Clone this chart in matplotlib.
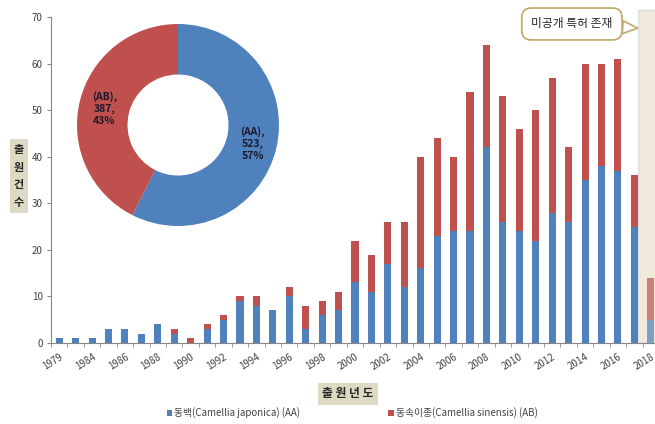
import matplotlib.pyplot as plt
from matplotlib.patches import Rectangle

plt.rcParams['font.family'] = ['Noto Sans CJK KR', 'DejaVu Sans']

years = ['1979', '1983', '1984', '1985', '1986', '1987', '1988', '1989', '1990',
         '1991', '1992', '1993', '1994', '1995', '1996', '1997', '1998', '1999',
         '2000', '2001', '2002', '2003', '2004', '2005', '2006', '2007', '2008',
         '2009', '2010', '2011', '2012', '2013', '2014', '2015', '2016', '2017', '2018']
aa = [1, 1, 1, 3, 3, 2, 4, 2, 0, 3, 5, 9, 8, 7, 10, 3, 6, 7,
      13, 11, 17, 12, 16, 23, 24, 24, 42, 26, 24, 22, 28, 26, 35, 38, 37, 25, 5]
ab = [0, 0, 0, 0, 0, 0, 0, 1, 1, 1, 1, 1, 2, 0, 2, 5, 3, 4,
      9, 8, 9, 14, 24, 21, 16, 30, 22, 27, 22, 28, 29, 16, 25, 22, 24, 11, 9]
shown_labels = ['1979', '1984', '1986', '1988', '1990', '1992', '1994', '1996', '1998',
                '2000', '2002', '2004', '2006', '2008', '2010', '2012', '2014', '2016', '2018']

donut_names = ['(AA)', '(AB)']
donut_values = [sum(aa), sum(ab)]

blue = '#4f81bd'
red = '#c0504d'
grey = '#868686'
text_c = '#404040'
beige = '#f0e9dc'

W, H = 655, 424
fig = plt.figure(figsize=(W / 100, H / 100), dpi=100)

# main stacked bars; the right edge runs past the figure
ax = fig.add_axes([51 / W, (H - 343) / H, 608 / W, 326 / H])
x = list(range(len(years)))
b1 = ax.bar(x, aa, width=0.43, color=blue, zorder=2)
b2 = ax.bar(x, ab, width=0.43, bottom=aa, color=red, zorder=2)
ax.set_xlim(-0.5, len(years) - 0.5)
ax.set_ylim(0, 70)
ax.set_yticks(range(0, 71, 10))
ax.tick_params(axis='y', labelsize=7, colors=grey, labelcolor=text_c, length=3, pad=3)
ax.set_xticks([years.index(y) for y in shown_labels])
ax.set_xticklabels(shown_labels, rotation=32, ha='right', va='top', rotation_mode='anchor')
ax.set_xticks([i - 0.5 for i in range(len(years) + 1)], minor=True)
ax.tick_params(axis='x', which='major', length=0, labelsize=7, labelcolor=text_c, pad=6)
ax.tick_params(axis='x', which='minor', length=3, colors=grey)
for s in ['top', 'right']:
    ax.spines[s].set_visible(False)
for s in ['left', 'bottom']:
    ax.spines[s].set_color(grey)
    ax.spines[s].set_linewidth(0.8)

# shaded span for the latest filings (solid behind, thin veil over the bars)
n = len(years)
ax.add_patch(Rectangle((n - 1.8, 0), 1.8, 71.5, facecolor=beige, edgecolor='#d5dde6',
                       linewidth=1, zorder=1, clip_on=False))
ax.add_patch(Rectangle((n - 1.8, 0), 1.8, 71.5, facecolor=beige, alpha=0.3,
                       edgecolor='none', zorder=3, clip_on=False))
ax.annotate('미공개 특허 존재', xy=(n - 1.8, 67.6), xytext=(31.2, 68.5),
            fontsize=8.5, color='#262626', ha='center', va='center', annotation_clip=False,
            bbox=dict(boxstyle='round,pad=0.8,rounding_size=0.8', fc='white',
                      ec='#c3ad73', lw=1.3),
            arrowprops=dict(arrowstyle='wedge,tail_width=1.1', fc='white',
                            ec='#c3ad73', lw=1.3, shrinkA=0, shrinkB=0), zorder=4)

# donut of totals
pax = fig.add_axes([(178 - 101) / W, (H - 125 - 101) / H, 202 / W, 202 / H])
pax.pie(donut_values, colors=[blue, red], startangle=90, counterclock=False,
        radius=1, wedgeprops=dict(width=0.5, linewidth=0))
pax.set_xlim(-1, 1)
pax.set_ylim(-1, 1)
pax.set_aspect('equal')
pax.axis('off')
total = sum(donut_values)
for (px, py), name, v in zip([(0.74, -0.18), (-0.73, 0.16)], donut_names, donut_values):
    pax.text(px, py, f'{name},\n{v},\n{round(v / total * 100)}%', ha='center', va='center',
             fontsize=7.5, fontweight='bold', color='#1a1a2e', linespacing=1.25)

# axis titles in shaded boxes
fig.text(19 / W, (H - 176) / H, '출\n원\n건\n수', ha='center', va='center', fontsize=8,
         fontweight='bold', color='#262626', linespacing=1.45,
         bbox=dict(boxstyle='square,pad=0.35', fc='#ddd9c3', ec='none'))
fig.text(348 / W, (H - 394) / H, '출 원 년 도', ha='center', va='center', fontsize=8.5,
         fontweight='bold', color='#262626',
         bbox=dict(boxstyle='square,pad=0.35', fc='#ddd9c3', ec='none'))

fig.legend([b1, b2], ['동백(Camellia japonica) (AA)', '동속이종(Camellia sinensis) (AB)'],
           loc='center', bbox_to_anchor=(352 / W, (H - 413) / H), ncol=2, frameon=False,
           fontsize=7, handlelength=0.6, handleheight=0.6, handletextpad=0.2,
           columnspacing=9, labelcolor=text_c)

fig.savefig('out.png', dpi=100)
